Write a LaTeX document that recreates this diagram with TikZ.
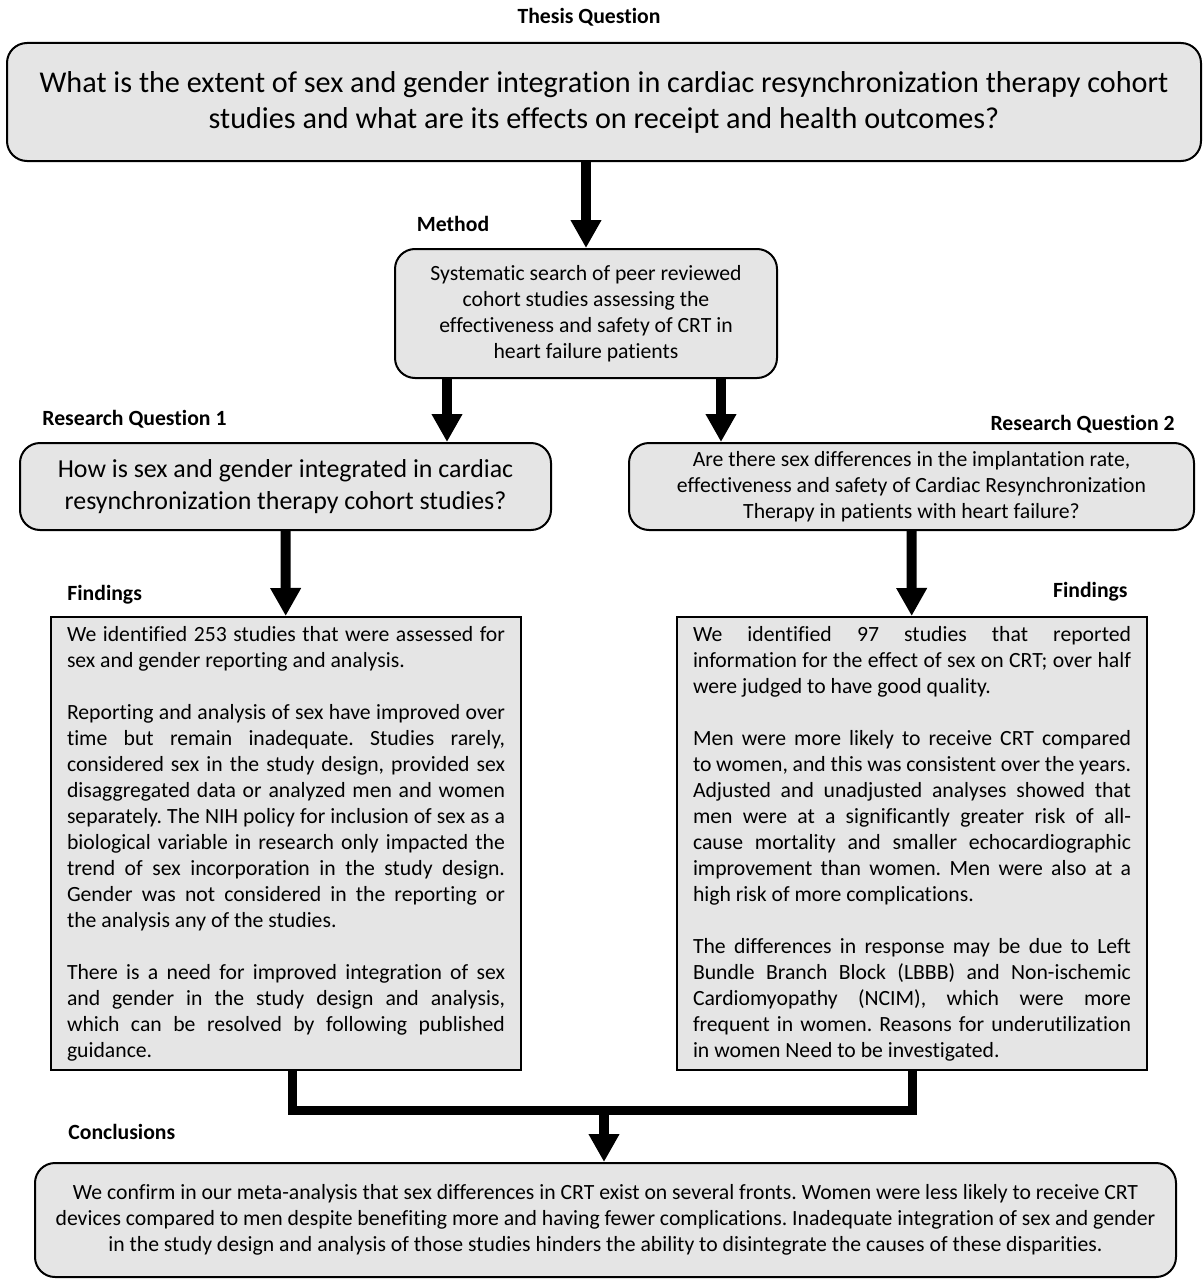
\documentclass[tikz,border=0pt]{standalone}
\usepackage{fontspec}
\setmainfont{Carlito}[Ligatures=NoCommon]
\usepackage{tikz}
\usetikzlibrary{arrows.meta, positioning}
\frenchspacing

\begin{document}
\begin{tikzpicture}[x=0.5pt, y=-0.5pt,
    rbox/.style={rectangle, rounded corners=10pt, draw=black, line width=1pt,
      fill=gray!20, align=center, inner sep=0pt},
    fbox/.style={rectangle, draw=black, line width=1pt, fill=gray!20,
      align=justify, text width=219pt, inner xsep=8pt, inner ysep=0pt,
      minimum height=226.5pt, font=\fontsize{10.85}{13}\selectfont},
    lbl/.style={font=\bfseries\fontsize{10.85}{13}\selectfont, inner sep=0pt},
    bigarrow/.style={line width=5pt, -{Triangle[width=14.5pt, length=14pt]}},
    joinline/.style={line width=4.5pt}]
  \useasboundingbox (0,0) rectangle (1204,1279);

  % boxes
  \node[rbox, minimum width=597pt, minimum height=59pt,
        font=\fontsize{15.1}{18}\selectfont] (thesis) at (604,102)
    {What is the extent of sex and gender integration in cardiac resynchronization therapy cohort\\
     studies and what are its effects on receipt and health outcomes?};
  \node[rbox, minimum width=191pt, minimum height=64.5pt,
        font=\fontsize{10.85}{13}\selectfont] (method) at (586,313.5)
    {Systematic search of peer reviewed\\ cohort studies assessing the\\
     effectiveness and safety of CRT in\\ heart failure patients};
  \node[rbox, minimum width=265.5pt, minimum height=43.5pt,
        font=\fontsize{12.95}{16}\selectfont] (rq1) at (285.5,486.5)
    {How is sex and gender integrated in cardiac\\ resynchronization therapy cohort studies?};
  \node[rbox, minimum width=282.5pt, minimum height=43.5pt,
        font=\fontsize{10.85}{13}\selectfont] (rq2) at (911.5,486.5)
    {Are there sex differences in the implantation rate,\\
     effectiveness and safety of Cardiac Resynchronization\\
     Therapy in patients with heart failure?};
  \node[fbox] (find1) at (286,843.5)
    {We identified 253 studies that were assessed for\linebreak
     sex and gender reporting and analysis.\par\vspace{13pt}
     Reporting and analysis of sex have improved over\linebreak
     time but remain inadequate. Studies rarely,\linebreak
     considered sex in the study design, provided sex\linebreak
     disaggregated data or analyzed men and women\linebreak
     separately. The NIH policy for inclusion of sex as a\linebreak
     biological variable in research only impacted the\linebreak
     trend of sex incorporation in the study design.\linebreak
     Gender was not considered in the reporting or\linebreak
     the analysis any of the studies.\par\vspace{13pt}
     There is a need for improved integration of sex\linebreak
     and gender in the study design and analysis,\linebreak
     which can be resolved by following published\linebreak
     guidance.};
  \node[fbox] (find2) at (912,843.5)
    {We identified 97 studies that reported\linebreak
     information for the effect of sex on CRT; over half\linebreak
     were judged to have good quality.\par\vspace{13pt}
     Men were more likely to receive CRT compared\linebreak
     to women, and this was consistent over the years.\linebreak
     Adjusted and unadjusted analyses showed that\linebreak
     men were at a significantly greater risk of all-\linebreak
     cause mortality and smaller echocardiographic\linebreak
     improvement than women. Men were also at a\linebreak
     high risk of more complications.\par\vspace{13pt}
     The differences in response may be due to Left\linebreak
     Bundle Branch Block (LBBB) and Non-ischemic\linebreak
     Cardiomyopathy (NCIM), which were more\linebreak
     frequent in women. Reasons for underutilization\linebreak
     in women Need to be investigated.};
  \node[rbox, minimum width=570.5pt, minimum height=57pt,
        font=\fontsize{10.85}{13}\selectfont] (concl) at (605.5,1220)
    {We confirm in our meta-analysis that sex differences in CRT exist on several fronts. Women were less likely to receive CRT\\
     devices compared to men despite benefiting more and having fewer complications. Inadequate integration of sex and gender\\
     in the study design and analysis of those studies hinders the ability to disintegrate the causes of these disparities.};

  % labels
  \node[lbl] (thesislbl) at (589,17) {Thesis Question};
  \node[lbl] (methodlbl) at (453,224) {Method};
  \node[lbl, anchor=west] (rq1lbl) at (42,419) {Research Question 1};
  \node[lbl, anchor=east] (rq2lbl) at (1175,424) {Research Question 2};
  \node[lbl, anchor=west] (find1lbl) at (67,595) {Findings};
  \node[lbl, anchor=east] (find2lbl) at (1128,592) {Findings};
  \node[lbl, anchor=west] (concllbl) at (68,1132) {Conclusions};

  % connectors
  \coordinate (mleft) at ([xshift=-69.5pt]method.south);
  \coordinate (mright) at ([xshift=67.5pt]method.south);
  \coordinate (join) at (604,1110);
  \draw[bigarrow] (thesis.south -| method.north) -- (method.north);
  \draw[bigarrow] (mleft) -- (mleft |- rq1.north);
  \draw[bigarrow] (mright) -- (mright |- rq2.north);
  \draw[bigarrow] (rq1) -- (find1);
  \draw[bigarrow] (rq2) -- (find2);
  \draw[joinline] ([xshift=3pt]find1.south) |- (join) -| (find2.south);
  \draw[bigarrow] (join) -- (join |- concl.north);
\end{tikzpicture}
\end{document}
